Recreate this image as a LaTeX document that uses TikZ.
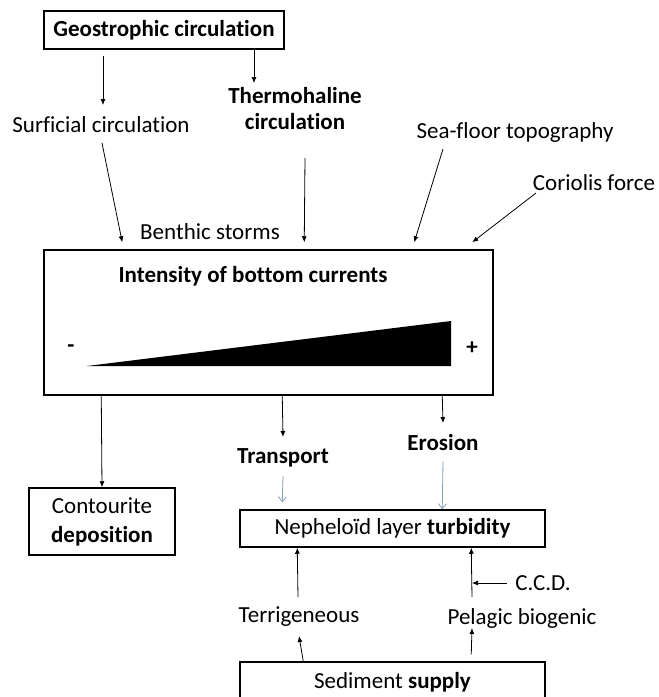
\documentclass[tikz,border=0pt]{standalone}
\usepackage{fontspec}
\setmainfont{Carlito}[Ligatures=NoCommon]
\usetikzlibrary{arrows.meta,calc}
\definecolor{SoftBlue}{HTML}{7F9DB6}

\begin{document}
\begin{tikzpicture}[x=1pt, y=-1pt,
  box/.style={draw, line width=1.5pt, inner sep=2pt, align=center},
  lbl/.style={inner sep=0pt, align=center},
  arr/.style={-{Latex[length=6pt,width=5pt]}, line width=0.8pt},
  barb/.style={-{Straight Barb[length=5pt,width=8pt]}, line width=0.8pt, SoftBlue},
  every node/.style={font=\fontsize{23}{26}\selectfont}
]
\useasboundingbox (0,0) rectangle (659,697);
% drivers
\node[box, minimum width=240, minimum height=38] (geo) at (164,30) {\textbf{Geostrophic circulation}};
\node[lbl] (surf) at (101,125) {Surficial circulation};
\node[lbl] (thermo) at (295,109) {\textbf{Thermohaline}\\\textbf{circulation}};
\node[lbl] (seafloor) at (515,132) {Sea-floor topography};
\node[lbl] (coriolis) at (594,183) {Coriolis force};
\node[lbl] (benthic) at (210,232) {Benthic storms};
% intensity box
\node[box, minimum width=449, minimum height=145] (main) at (268.5,322.5) {};
\node[lbl] (title) at (253,276) {\textbf{Intensity of bottom currents}};
\fill (87,366) -- (451,366) -- (451,321) -- cycle;
\node[lbl] (minus) at (71,349) {\textbf{-}};
\node[lbl] (plus) at (472,348) {\textbf{+}};
% outputs
\node[box, minimum width=146, minimum height=67] (contour) at (102,521.5) {Contourite\\[3pt]\textbf{deposition}};
\node[lbl] (transport) at (283,458) {\textbf{Transport}};
\node[lbl] (erosion) at (443,443) {\textbf{Erosion}};
\node[box, minimum width=305, minimum height=37] (neph) at (392.5,528.5) {Nepheloïd layer \textbf{turbidity}};
\node[lbl] (terr) at (299,617) {Terrigeneous};
\node[lbl] (pelagic) at (522,618) {Pelagic biogenic};
\node[lbl] (ccd) at (543,583) {C.C.D.};
\node[box, minimum width=305, minimum height=40] (sed) at (392.5,682) {Sediment \textbf{supply}};

\draw[arr] ($(geo.south)+(-61,6)$) -- ($(surf)+(2,-20)$);
\draw[arr] ($(geo.south)+(90,0)$) -- ($(thermo)+(-41,-26)$);
\draw[arr] ($(surf)+(1,18)$) -- ($(main.north west)+(79,-7)$);
\draw[arr] ($(thermo)+(10,49)$) -- ($(main.north west)+(261,-7)$);
\draw[arr] ($(seafloor)+(-72,17)$) -- ($(main.north west)+(371,-7)$);
\draw[arr] ($(coriolis)+(-58,10)$) -- ($(main.north west)+(429,-7)$);
\draw[arr] ($(main.south west)+(58,0)$) -- (contour.north);
\draw[arr] ($(main.south west)+(239,0)$) -- ($(transport)+(0,-21)$);
\draw[arr] ($(main.south west)+(399,0)$) -- ($(erosion)+(0,-20)$);
\draw[barb] ($(transport)+(0,18)$) -- ($(neph.north west)+(43,-7)$);
\draw[barb] ($(erosion)+(0,18)$) -- ($(neph.north west)+(203,0)$);
\draw[arr] ($(terr)+(-1,-20)$) -- ($(neph.south west)+(58,0)$);
\draw[arr] ($(pelagic)+(-50,-21)$) -- ($(neph.south west)+(232,0)$);
\draw[arr] ($(ccd)+(-36,0)$) -- ($(pelagic)+(-50,-35)$);
\draw[arr] ($(sed.north west)+(64,0)$) -- ($(terr)+(0,19)$);
\draw[arr] ($(sed.north west)+(232,-7)$) -- ($(pelagic)+(-50,10)$);
\end{tikzpicture}
\end{document}
